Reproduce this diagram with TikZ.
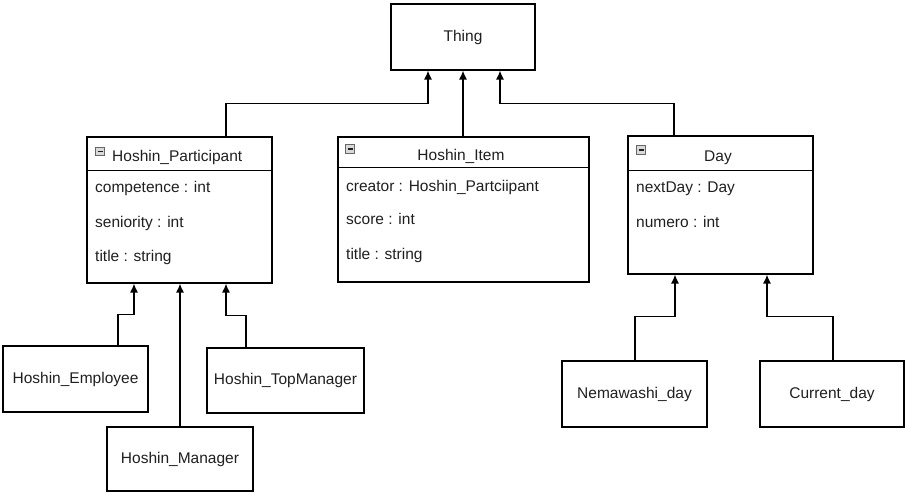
\documentclass[tikz,border=0pt]{standalone}
\usepackage{fontspec}
\setmainfont{Liberation Sans}
\usetikzlibrary{arrows.meta}
\begin{document}
\begin{tikzpicture}[x=1pt,y=1pt,
  every node/.style={font=\fontsize{15.5}{18}\selectfont,text=black!88},
  box/.style={draw,line width=1.2pt,inner sep=0pt},
  inh/.style={line width=1.2pt,-{Latex[length=9pt,width=8pt]}},
  minus/.style={draw=gray!80!black,fill=gray!30,line width=0.7pt,minimum size=8.5pt,inner sep=0pt}]
\useasboundingbox (0,0) rectangle (905,493);

% Thing

\node[box,minimum width=144pt,minimum height=66pt] (thing) at (463,456) {Thing};

% Hoshin_Participant

\node[box,minimum width=185pt,minimum height=146pt] (part) at (179.5,283) {};
\draw[line width=1.2pt] ([yshift=-34pt]part.north west)--([yshift=-34pt]part.north east);
\node[minus] (partmin) at (100,341.5) {\rule{5pt}{1.3pt}};
 \node[anchor=base west,inner sep=0pt] (partname) at (112,331) {Hoshin\_Participant};
 \node[anchor=base west,inner sep=0pt] (partcomp) at (95,300) {competence : int};
 \node[anchor=base west,inner sep=0pt] (partsen) at (95,265) {seniority : int};
 \node[anchor=base west,inner sep=0pt] (parttitle) at (95,231) {title : string};

% Hoshin_Item

\node[box,minimum width=251pt,minimum height=145pt] (item) at (463.5,283.5) {};
\draw[line width=1.2pt] ([yshift=-31pt]item.north west)--([yshift=-31pt]item.north east);
\node[minus] (itemmin) at (350,344) {\rule{5pt}{1.3pt}};
 \node[anchor=base,inner sep=0pt] (itemname) at (461,332) {Hoshin\_Item};
 \node[anchor=base west,inner sep=0pt] (itemcreator) at (346,301) {creator : Hoshin\_Partciipant};
 \node[anchor=base west,inner sep=0pt] (itemscore) at (346,268) {score : int};
 \node[anchor=base west,inner sep=0pt] (itemtitle) at (346,233) {title : string};

% Day

\node[box,minimum width=185pt,minimum height=138pt] (day) at (720.5,288) {};
\draw[line width=1.2pt] ([yshift=-35pt]day.north west)--([yshift=-35pt]day.north east);
\node[minus] (daymin) at (641,343) {\rule{5pt}{1.3pt}};
 \node[anchor=base,inner sep=0pt] (dayname) at (718,331) {Day};
 \node[anchor=base west,inner sep=0pt] (daynext) at (636,300) {nextDay : Day};
 \node[anchor=base west,inner sep=0pt] (daynum) at (636,265) {numero : int};

% sous-classes

\node[box,minimum width=145pt,minimum height=66pt] (emp) at (75.5,114) {Hoshin\_Employee};
\node[box,minimum width=146pt,minimum height=64pt] (mgr) at (180,34) {Hoshin\_Manager};
\node[box,minimum width=157pt,minimum height=65pt] (top) at (285.5,112.5) {Hoshin\_TopManager};
\node[box,minimum width=145pt,minimum height=66pt] (nem) at (634.5,99) {Nemawashi\_day};
\node[box,minimum width=144pt,minimum height=66pt] (cur) at (832,99) {Current\_day};

% heritage

\draw[inh] ([xshift=46.5pt]part.north)--++(0,33) -| ([xshift=-35pt]thing.south);
\draw[inh] (thing.south |- item.north)--(thing.south);
\draw[inh] ([xshift=-46.5pt]day.north)--++(0,32) -| ([xshift=37pt]thing.south);

\draw[inh] ([xshift=42.5pt]emp.north)--++(0,31) -| ([xshift=-45.5pt]part.south);
\draw[inh] (mgr.north)--(mgr.north |- part.south);
\draw[inh] ([xshift=-39.5pt]top.north)--++(0,32) -| ([xshift=46.5pt]part.south);

\draw[inh] ([xshift=0.5pt]nem.north)--++(0,44) -| ([xshift=-45.5pt]day.south);
\draw[inh] ([xshift=1pt]cur.north)--++(0,44) -| ([xshift=46.5pt]day.south);
\end{tikzpicture}
\end{document}
